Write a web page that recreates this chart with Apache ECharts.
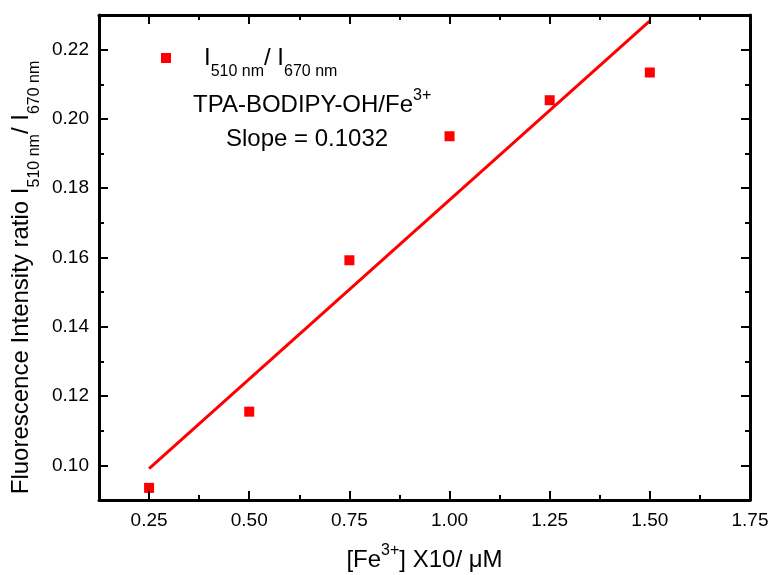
<!DOCTYPE html>
<html><head><meta charset="utf-8">
<script src="https://cdn.jsdelivr.net/npm/echarts@6/dist/echarts.min.js"></script>
<style>html,body{margin:0;padding:0;background:#fff}#c{width:773px;height:575px}</style>
</head><body><div id="c"></div>
<script>
// ---- data ----
const concentrations = [0.25, 0.50, 0.75, 1.00, 1.25, 1.50];
const ratios = [0.0935, 0.1155, 0.1592, 0.1950, 0.2054, 0.2134];
const xTicks = [0.25, 0.50, 0.75, 1.00, 1.25, 1.50, 1.75];
const xMinorTicks = [0.375, 0.625, 0.875, 1.125, 1.375, 1.625];
const yTicks = [0.10, 0.12, 0.14, 0.16, 0.18, 0.20, 0.22];
const yMinorTicks = [0.11, 0.13, 0.15, 0.17, 0.19, 0.21];
const xRange = [0.125, 1.75];
const yRange = [0.09, 0.23];
const slopeText = 'Slope = 0.1032';
const compoundText = 'TPA-BODIPY-OH/Fe';

// ---- least-squares fit line from the data ----
const n = concentrations.length;
const mx = concentrations.reduce((a, b) => a + b, 0) / n;
const my = ratios.reduce((a, b) => a + b, 0) / n;
let sxy = 0, sxx = 0;
for (let i = 0; i < n; i++) {
  sxy += (concentrations[i] - mx) * (ratios[i] - my);
  sxx += (concentrations[i] - mx) * (concentrations[i] - mx);
}
const slope = sxy / sxx, intercept = my - slope * mx;
const fitX = [concentrations[0], concentrations[n - 1]];
const fitLine = fitX.map(x => [x, intercept + slope * x]);

const FONT = '"Liberation Sans", Arial, Helvetica, sans-serif';
const RED = '#ff0000';

const subRich = {
  m: { fontSize: 24, fontFamily: FONT, color: '#000', lineHeight: 43, verticalAlign: 'middle' },
  s: { fontSize: 16, fontFamily: FONT, color: '#000', lineHeight: 16, verticalAlign: 'bottom' },
  sp: { width: 28, fontSize: 24, lineHeight: 24, verticalAlign: 'middle' }
};
const supRich = {
  m: { fontSize: 24, fontFamily: FONT, color: '#000', lineHeight: 34, verticalAlign: 'middle' },
  p: { fontSize: 16, fontFamily: FONT, color: '#000', lineHeight: 16, verticalAlign: 'top' }
};

function axis(position, range, ticks, len, main) {
  return {
    type: 'value', position: position, min: range[0], max: range[1],
    axisLine: { show: !!main, onZero: false, lineStyle: { color: '#000', width: 3 } },
    axisTick: { show: true, inside: true, length: len, customValues: ticks, lineStyle: { color: '#000', width: 2 } },
    axisLabel: { show: false },
    splitLine: { show: false },
    minorTick: { show: false },
    z: 5
  };
}

const xMain = axis('bottom', xRange, xTicks, 9, true);
xMain.axisLabel = { show: true, customValues: xTicks, formatter: v => v.toFixed(2), fontSize: 19, fontFamily: FONT, color: '#000', margin: 11 };
xMain.name = '{m|[Fe}{p|3+}{m|] X10/ \u03bcM}';
xMain.nameLocation = 'middle';
xMain.nameGap = 43;
xMain.nameMoveOverlap = false;
xMain.nameTextStyle = { rich: supRich };

const yMain = axis('left', yRange, yTicks, 9, true);
yMain.axisLabel = { show: true, customValues: yTicks, formatter: v => v.toFixed(2), fontSize: 19, fontFamily: FONT, color: '#000', margin: 10 };
yMain.name = '{m|Fluorescence Intensity ratio I}{s|510 nm}{m|/ I}{s|670 nm}';
yMain.nameLocation = 'middle';
yMain.nameRotate = 90;
yMain.nameGap = 56;
yMain.nameMoveOverlap = false;
yMain.nameTextStyle = { rich: subRich, padding: [0, 40, 0, 0] };

const option = {
  backgroundColor: '#fff',
  animation: false,
  grid: { left: 99, right: 23, top: 15, bottom: 75, containLabel: false, outerBoundsMode: 'none' },
  xAxis: [
    xMain,
    axis('bottom', xRange, xMinorTicks, 5, false),
    axis('top', xRange, xTicks, 9, true),
    axis('top', xRange, xMinorTicks, 5, false)
  ],
  yAxis: [
    yMain,
    axis('left', yRange, yMinorTicks, 5, false),
    axis('right', yRange, yTicks, 9, true),
    axis('right', yRange, yMinorTicks, 5, false)
  ],
  legend: {
    left: 161, top: 46, padding: 0,
    itemWidth: 10, itemHeight: 10,
    data: [{ name: 'ratio', icon: 'rect', itemStyle: { color: RED, opacity: 1 } }],
    formatter: () => '{sp| }{m|I}{s|510 nm}{m|/ I}{s|670 nm}',
    textStyle: { rich: subRich }
  },
  graphic: [
    { type: 'text', x: 193, y: 88, style: { text: '{m|' + compoundText + '}{p|3+}', rich: supRich, align: 'left', verticalAlign: 'top' } },
    { type: 'text', x: 226, y: 139, style: { text: slopeText, fontSize: 24, fontFamily: FONT, fill: '#000', align: 'left', verticalAlign: 'middle' } }
  ],
  series: [
    {
      name: 'fit', type: 'line', data: fitLine, showSymbol: false, symbol: 'none',
      lineStyle: { color: RED, width: 3 }, itemStyle: { color: RED }, z: 3
    },
    {
      name: 'ratio', type: 'scatter', data: concentrations.map((x, i) => [x, ratios[i]]),
      symbol: 'rect', symbolSize: 10, itemStyle: { color: RED, opacity: 1 }, z: 4
    }
  ]
};

const chart = echarts.init(document.getElementById('c'), null, { renderer: 'canvas' });
chart.setOption(option);
</script>
</body></html>
